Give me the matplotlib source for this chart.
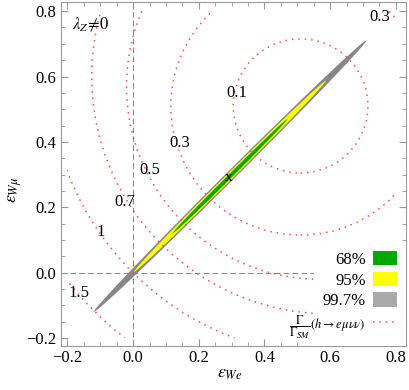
import matplotlib.pyplot as plt
import numpy as np
from matplotlib.patches import Ellipse, Circle, Patch, Rectangle
from matplotlib.lines import Line2D
from matplotlib.ticker import MultipleLocator, FuncFormatter

plt.rcParams['font.family'] = 'serif'
plt.rcParams['font.serif'] = ['Liberation Serif', 'DejaVu Serif']
plt.rcParams['mathtext.fontset'] = 'stix'

# Confidence regions: centre, full length along the diagonal, full width across
cl_labels = ['99.7%', '95%', '68%']
cl_colors = ['#878787', '#ffff00', '#00a800']
cl_legend_colors = ['#aaaaaa', '#ffff00', '#00a800']
cl_center = (0.295, 0.295)
cl_length = [1.174, 0.827, 0.495]
cl_width = [0.028, 0.020, 0.0124]

# Gamma/Gamma_SM contours: level, centre on the diagonal, radius
ct_levels = ['0.1', '0.3', '0.5', '0.7', '1', '1.5']
ct_center = [0.51, 0.51, 0.57, 0.60, 0.62, 0.66]
ct_radius = [0.205, 0.395, 0.59, 0.726, 0.877, 1.10]

# contour label positions
lab_text = ['0.3', '0.1', '0.3', '0.5', '0.7', '1', '1.5']
lab_x = [0.751, 0.315, 0.142, 0.051, -0.025, -0.10, -0.165]
lab_y = [0.782, 0.550, 0.396, 0.314, 0.216, 0.124, -0.063]

best_fit = (0.29, 0.29)

fig = plt.figure(figsize=(4.1, 3.9), dpi=100)
ax = fig.add_axes([0.1476, 0.1138, 0.8426, 0.8812])
ax.set_xlim(-0.221, 0.831)
ax.set_ylim(-0.223, 0.828)

ax.axvline(0, color='#888888', lw=0.8, ls=(0, (5, 3)), zorder=1)
ax.axhline(0, color='#888888', lw=0.8, ls=(0, (5, 3)), zorder=1)

for L, W, c in zip(cl_length, cl_width, cl_colors):
    ax.add_patch(Ellipse(cl_center, L, W, angle=45, facecolor=c, edgecolor='none', zorder=2))

clip = Rectangle((-0.2, -0.2), 1.0, 1.0, transform=ax.transData, visible=False)
ax.add_patch(clip)
for c0, r in zip(ct_center, ct_radius):
    circ = Circle((c0, c0), r, fill=False, edgecolor='#ff4d4d', lw=1.1,
                  ls=(0, (1, 3.2)), zorder=3)
    ax.add_patch(circ)
    circ.set_clip_path(clip)

for t, x, y in zip(lab_text, lab_x, lab_y):
    ax.text(x, y, t, fontsize=12, ha='center', va='center', zorder=4)

ax.text(best_fit[0], best_fit[1], 'x', fontsize=11, ha='center', va='center', zorder=4)
ax.text(-0.187, 0.757, r'$\lambda_Z\!\neq\! 0$', fontsize=12, ha='left', va='center')

# white backing behind the legend
ax.add_patch(Rectangle((0.55, -0.223), 0.3, 0.293, facecolor='white', edgecolor='none',
                       zorder=4.5))

handles = [Patch(facecolor=c, edgecolor='none') for c in cl_legend_colors[::-1]]
handles.append(Line2D([0], [0], color='#ff4d4d', lw=1.1, ls=(0, (1, 3.2))))
labels = cl_labels[::-1] + [r'$\dfrac{\Gamma}{\Gamma_{SM}}(h\to e\mu\nu\nu)$']
leg = ax.legend(handles, labels, loc='lower right', bbox_to_anchor=(0.985, 0.005),
                markerfirst=False, fontsize=12, frameon=False,
                handlelength=1.45, handleheight=0.95, labelspacing=0.22,
                handletextpad=0.45, borderpad=0.2, borderaxespad=0.0)
leg.set_zorder(5)
leg.get_texts()[3].set_fontsize(9)

fmt = FuncFormatter(lambda v, pos: f'{v:.1f}'.replace('-', '\u2212'))
ax.xaxis.set_major_locator(MultipleLocator(0.2))
ax.xaxis.set_minor_locator(MultipleLocator(0.05))
ax.yaxis.set_major_locator(MultipleLocator(0.2))
ax.yaxis.set_minor_locator(MultipleLocator(0.05))
ax.xaxis.set_major_formatter(fmt)
ax.yaxis.set_major_formatter(fmt)
ax.tick_params(which='both', direction='in', top=True, right=True, color='#999999',
               labelsize=12, labelcolor='black')
ax.tick_params(which='major', length=5, pad=3)
ax.tick_params(which='minor', length=3)
for s in ax.spines.values():
    s.set_color('#999999')

fig.text(230 / 410, 1 - 373 / 390, r'$\epsilon_{We}$', fontsize=13, ha='center', va='center')
fig.text(15 / 410, 1 - 190 / 390, r'$\epsilon_{W\mu}$', fontsize=13, ha='center', va='center',
         rotation=90)

fig.savefig('out.png', dpi=100)
